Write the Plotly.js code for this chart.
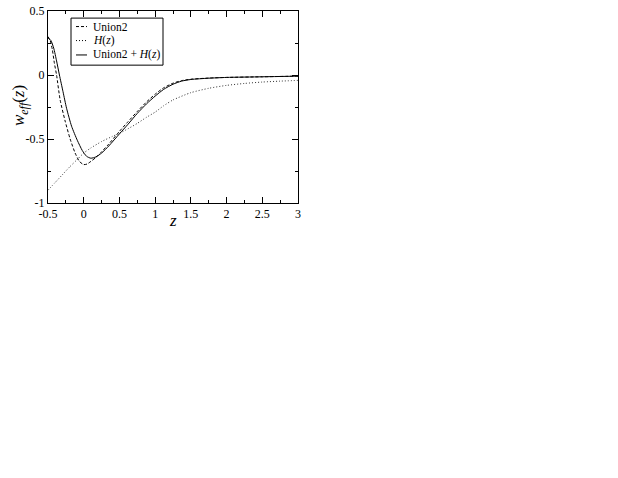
<!DOCTYPE html>
<html>
<head>
<meta charset="utf-8">
<script src="https://cdn.plot.ly/plotly-3.0.1.min.js"></script>
<style>html,body{margin:0;padding:0;background:#fff;}#chart{width:618px;height:478px;}</style>
</head>
<body>
<div id="chart"></div>
<script>
// Union2 (dashed)
const zUnion2 = [-0.5, -0.47, -0.44, -0.41, -0.38, -0.33, -0.26, -0.19, -0.12, -0.06, 0.0, 0.05, 0.1, 0.18, 0.25, 0.35, 0.5, 0.62, 0.75, 0.88, 1.0, 1.12, 1.25, 1.37, 1.5, 1.75, 2.0, 2.5, 3.0];
const wUnion2 = [0.30, 0.27, 0.20, 0.09, 0.0, -0.195, -0.36, -0.50, -0.61, -0.675, -0.70, -0.695, -0.675, -0.64, -0.60, -0.54, -0.44, -0.365, -0.285, -0.21, -0.15, -0.10, -0.064, -0.044, -0.033, -0.024, -0.019, -0.014, -0.009];
// H(z) (dotted)
const zH = [-0.5, -0.4, -0.3, -0.2, -0.1, 0.0, 0.1, 0.25, 0.4, 0.5, 0.62, 0.75, 0.88, 1.0, 1.12, 1.25, 1.5, 1.75, 2.0, 2.25, 2.5, 2.75, 3.0];
const wH = [-0.90, -0.84, -0.78, -0.72, -0.665, -0.61, -0.57, -0.52, -0.48, -0.455, -0.42, -0.378, -0.33, -0.29, -0.24, -0.195, -0.138, -0.104, -0.081, -0.066, -0.055, -0.048, -0.042];
// Union2 + H(z) (solid)
const zBoth = [-0.5, -0.46, -0.42, -0.38, -0.34, -0.29, -0.24, -0.17, -0.09, -0.02, 0.04, 0.1, 0.17, 0.25, 0.35, 0.5, 0.62, 0.75, 0.88, 1.0, 1.12, 1.25, 1.37, 1.5, 1.75, 2.0, 2.5, 3.0];
const wBoth = [0.29, 0.27, 0.21, 0.11, 0.0, -0.13, -0.26, -0.40, -0.51, -0.59, -0.635, -0.65, -0.64, -0.61, -0.555, -0.46, -0.385, -0.30, -0.225, -0.165, -0.112, -0.072, -0.048, -0.035, -0.025, -0.019, -0.014, -0.009];

const xTickVals = [-0.5, 0, 0.5, 1, 1.5, 2, 2.5, 3];
const xTickText = ["-0.5", "0", "0.5", "1", "1.5", "2", "2.5", "3"];
const yTickVals = [-1, -0.5, 0, 0.5];
const yTickText = ["-1", "-0.5", "0", "0.5"];
const legendNames = ["Union2", "<i>H</i>(<i>z</i>)", "Union2 + <i>H</i>(<i>z</i>)"];
const legendDash = ["3px,2px", "1px,2px", "solid"];

const FONT = "Liberation Serif";

const traces = [
  {x: zUnion2, y: wUnion2, mode: "lines", line: {color: "#000", width: 1, dash: legendDash[0], shape: "spline", smoothing: 0.6}},
  {x: zH, y: wH, mode: "lines", line: {color: "#333", width: 1, dash: legendDash[1], shape: "spline", smoothing: 0.6}},
  {x: zBoth, y: wBoth, mode: "lines", line: {color: "#000", width: 1, dash: legendDash[2], shape: "spline", smoothing: 0.6}}
];

// Manual legend (paper coordinates)
const L = {x0: 0.092, x1: 0.46, y0: 0.718, y1: 0.963};
const rowY = [0.919, 0.846, 0.771];
const shapes = [{type: "rect", xref: "paper", yref: "paper", x0: L.x0, x1: L.x1, y0: L.y0, y1: L.y1, line: {color: "#000", width: 1}, fillcolor: "#fff", layer: "above"}];
const annotations = [];
legendNames.forEach((nm, i) => {
  shapes.push({type: "line", xref: "paper", yref: "paper", x0: 0.112, x1: 0.156, y0: rowY[i], y1: rowY[i], line: {color: "#000", width: 1, dash: legendDash[i]}, layer: "above"});
  annotations.push({xref: "paper", yref: "paper", x: 0.172, y: rowY[i], xanchor: "left", yanchor: "middle", text: nm, showarrow: false, font: {family: FONT, size: 11.5, color: "#000"}});
});
annotations.push({xref: "paper", yref: "paper", x: -0.112, y: 0.505, xanchor: "center", yanchor: "middle", textangle: -90, showarrow: false, text: "<i>w</i><sub><i>eff</i></sub>(<i>z</i>)", font: {family: FONT, size: 17, color: "#000"}});
annotations.push({xref: "paper", yref: "paper", x: 0.5, y: -0.09, xanchor: "center", yanchor: "middle", showarrow: false, text: "<i>z</i>", font: {family: FONT, size: 17, color: "#000"}});

const axisCommon = {
  showgrid: false, zeroline: false, showline: true, linecolor: "#000", linewidth: 1, mirror: "ticks",
  ticks: "inside", ticklen: 6, tickwidth: 1, tickcolor: "#000",
  tickfont: {family: FONT, size: 12, color: "#000"}
};

const layout = {
  width: 618, height: 478,
  margin: {l: 48, r: 320, t: 11, b: 275, pad: 0},
  paper_bgcolor: "#fff", plot_bgcolor: "#fff",
  font: {family: FONT, color: "#000"},
  showlegend: false,
  xaxis: Object.assign({}, axisCommon, {range: [-0.5, 3], tickmode: "array", tickvals: xTickVals, ticktext: xTickText,
    minor: {dtick: 0.25, tick0: -0.5, ticks: "inside", ticklen: 3, tickwidth: 1, tickcolor: "#000", showgrid: false}}),
  yaxis: Object.assign({}, axisCommon, {range: [-1, 0.5], tickmode: "array", tickvals: yTickVals, ticktext: yTickText,
    minor: {dtick: 0.25, tick0: -1, ticks: "inside", ticklen: 3, tickwidth: 1, tickcolor: "#000", showgrid: false}}),
  shapes: shapes,
  annotations: annotations
};

Plotly.newPlot("chart", traces, layout, {staticPlot: true, displayModeBar: false});
</script>
</body>
</html>
